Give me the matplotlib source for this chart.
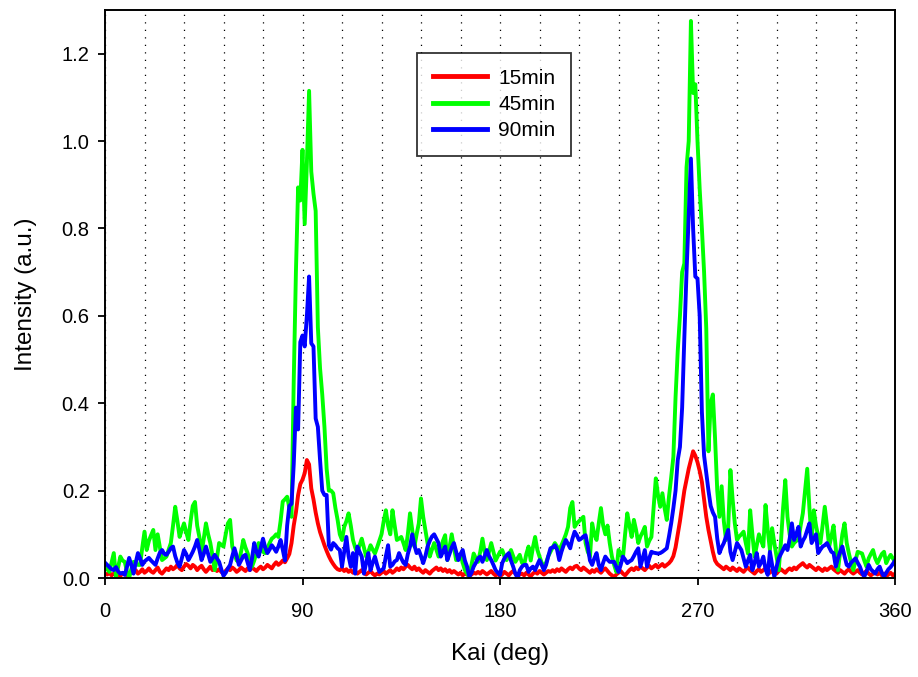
import numpy as np
import matplotlib
matplotlib.use("Agg")
import matplotlib.pyplot as plt
from matplotlib.ticker import MultipleLocator, FormatStrFormatter

plt.rcParams['font.family'] = ['Liberation Sans', 'DejaVu Sans']

kai = np.arange(0, 361, 1)

i_15min = [
    0.010, 0.008, 0.012, 0.006, 0.010, 0.014, 0.008, 0.005, 0.010, 0.012,
    0.006, 0.010, 0.015, 0.012, 0.018, 0.010, 0.014, 0.020, 0.012, 0.016,
    0.022, 0.015, 0.012, 0.018, 0.024, 0.014, 0.010, 0.016, 0.022, 0.018,
    0.026, 0.020, 0.024, 0.030, 0.022, 0.018, 0.026, 0.032, 0.028, 0.022,
    0.030, 0.026, 0.018, 0.024, 0.028, 0.020, 0.014, 0.020, 0.026, 0.018,
    0.022, 0.016, 0.020, 0.014, 0.010, 0.016, 0.022, 0.018, 0.024, 0.020,
    0.014, 0.018, 0.024, 0.020, 0.016, 0.022, 0.018, 0.024, 0.020, 0.016,
    0.022, 0.026, 0.020, 0.024, 0.030, 0.026, 0.022, 0.030, 0.036, 0.030,
    0.034, 0.040, 0.036, 0.045, 0.055, 0.080, 0.120, 0.150, 0.190, 0.215,
    0.225, 0.240, 0.270, 0.260, 0.205, 0.180, 0.150, 0.125, 0.105, 0.090,
    0.075, 0.062, 0.050, 0.040, 0.032, 0.025, 0.020, 0.018, 0.022, 0.016,
    0.020, 0.014, 0.018, 0.012, 0.016, 0.010, 0.014, 0.018, 0.012, 0.008,
    0.012, 0.016, 0.010, 0.006, 0.010, 0.008, 0.012, 0.016, 0.010, 0.014,
    0.018, 0.012, 0.016, 0.022, 0.018, 0.024, 0.020, 0.026, 0.030, 0.024,
    0.020, 0.026, 0.018, 0.022, 0.016, 0.012, 0.018, 0.014, 0.010, 0.016,
    0.020, 0.024, 0.018, 0.022, 0.016, 0.020, 0.014, 0.018, 0.012, 0.016,
    0.012, 0.008, 0.012, 0.006, 0.010, 0.008, 0.004, 0.008, 0.012, 0.010,
    0.014, 0.010, 0.016, 0.012, 0.008, 0.012, 0.016, 0.010, 0.006, 0.010,
    0.004, 0.008, 0.014, 0.010, 0.006, 0.012, 0.016, 0.010, 0.004, 0.008,
    0.010, 0.006, 0.012, 0.008, 0.004, 0.010, 0.014, 0.010, 0.016, 0.012,
    0.008, 0.012, 0.016, 0.014, 0.018, 0.014, 0.020, 0.016, 0.022, 0.018,
    0.014, 0.020, 0.024, 0.020, 0.026, 0.028, 0.022, 0.018, 0.024, 0.020,
    0.016, 0.012, 0.018, 0.014, 0.020, 0.016, 0.012, 0.018, 0.022, 0.016,
    0.010, 0.006, 0.002, 0.008, 0.012, 0.016, 0.010, 0.006, 0.012, 0.018,
    0.022, 0.018, 0.024, 0.020, 0.026, 0.022, 0.018, 0.024, 0.028, 0.022,
    0.026, 0.030, 0.024, 0.028, 0.032, 0.026, 0.030, 0.034, 0.040, 0.050,
    0.070, 0.100, 0.130, 0.165, 0.200, 0.225, 0.250, 0.270, 0.290, 0.280,
    0.265, 0.245, 0.220, 0.180, 0.140, 0.110, 0.085, 0.060, 0.040, 0.032,
    0.028, 0.024, 0.020, 0.026, 0.022, 0.018, 0.024, 0.020, 0.016, 0.022,
    0.018, 0.014, 0.020, 0.024, 0.018, 0.014, 0.010, 0.016, 0.020, 0.014,
    0.018, 0.022, 0.016, 0.012, 0.018, 0.014, 0.010, 0.016, 0.020, 0.016,
    0.012, 0.018, 0.022, 0.018, 0.024, 0.020, 0.026, 0.030, 0.034, 0.028,
    0.024, 0.030, 0.026, 0.022, 0.018, 0.024, 0.020, 0.016, 0.022, 0.018,
    0.022, 0.026, 0.020, 0.016, 0.012, 0.018, 0.014, 0.010, 0.016, 0.020,
    0.014, 0.010, 0.014, 0.018, 0.012, 0.008, 0.012, 0.016, 0.010, 0.006,
    0.010, 0.014, 0.008, 0.012, 0.006, 0.010, 0.004, 0.008, 0.012, 0.006,
    0.010,
]

i_45min = [
    0.026, 0.020, 0.014, 0.035, 0.057, 0.003, 0.025, 0.049, 0.040, 0.037,
    0.015, 0.000, 0.020, 0.037, 0.034, 0.030, 0.030, 0.070, 0.106, 0.064,
    0.085, 0.098, 0.110, 0.064, 0.100, 0.070, 0.041, 0.045, 0.049, 0.065,
    0.080, 0.120, 0.163, 0.130, 0.094, 0.110, 0.125, 0.105, 0.087, 0.130,
    0.165, 0.174, 0.120, 0.094, 0.057, 0.090, 0.125, 0.100, 0.080, 0.050,
    0.018, 0.045, 0.080, 0.076, 0.072, 0.100, 0.125, 0.133, 0.072, 0.055,
    0.040, 0.037, 0.060, 0.087, 0.070, 0.057, 0.040, 0.026, 0.040, 0.057,
    0.080, 0.070, 0.060, 0.057, 0.068, 0.080, 0.090, 0.094, 0.100, 0.094,
    0.130, 0.175, 0.180, 0.186, 0.160, 0.140, 0.450, 0.700, 0.894, 0.864,
    0.980, 0.810, 0.950, 1.115, 0.930, 0.880, 0.840, 0.574, 0.480, 0.420,
    0.346, 0.250, 0.200, 0.200, 0.194, 0.160, 0.133, 0.100, 0.087, 0.117,
    0.130, 0.148, 0.120, 0.087, 0.070, 0.057, 0.075, 0.090, 0.070, 0.049,
    0.060, 0.075, 0.065, 0.056, 0.070, 0.085, 0.100, 0.130, 0.155, 0.120,
    0.100, 0.155, 0.120, 0.087, 0.090, 0.094, 0.080, 0.064, 0.100, 0.148,
    0.110, 0.072, 0.100, 0.125, 0.182, 0.140, 0.110, 0.080, 0.049, 0.065,
    0.080, 0.065, 0.049, 0.065, 0.085, 0.098, 0.041, 0.070, 0.100, 0.070,
    0.041, 0.045, 0.053, 0.035, 0.018, 0.010, 0.003, 0.030, 0.056, 0.045,
    0.037, 0.060, 0.090, 0.060, 0.041, 0.060, 0.080, 0.060, 0.040, 0.050,
    0.060, 0.064, 0.050, 0.041, 0.052, 0.064, 0.050, 0.037, 0.045, 0.053,
    0.035, 0.030, 0.055, 0.072, 0.040, 0.070, 0.094, 0.065, 0.049, 0.035,
    0.026, 0.035, 0.050, 0.060, 0.070, 0.080, 0.072, 0.064, 0.075, 0.087,
    0.100, 0.117, 0.160, 0.174, 0.117, 0.125, 0.130, 0.135, 0.140, 0.080,
    0.060, 0.049, 0.125, 0.100, 0.087, 0.125, 0.160, 0.120, 0.100, 0.120,
    0.080, 0.049, 0.030, 0.014, 0.064, 0.055, 0.045, 0.100, 0.148, 0.120,
    0.094, 0.133, 0.110, 0.080, 0.095, 0.105, 0.117, 0.072, 0.085, 0.094,
    0.160, 0.228, 0.190, 0.163, 0.194, 0.160, 0.133, 0.186, 0.230, 0.277,
    0.414, 0.520, 0.600, 0.700, 0.720, 0.940, 1.000, 1.275, 1.110, 1.130,
    1.000, 0.890, 0.800, 0.700, 0.570, 0.290, 0.400, 0.420, 0.320, 0.200,
    0.140, 0.210, 0.130, 0.087, 0.117, 0.247, 0.180, 0.125, 0.087, 0.095,
    0.100, 0.106, 0.080, 0.056, 0.155, 0.100, 0.049, 0.075, 0.100, 0.085,
    0.072, 0.167, 0.110, 0.064, 0.114, 0.080, 0.050, 0.018, 0.080, 0.160,
    0.224, 0.140, 0.100, 0.072, 0.080, 0.085, 0.087, 0.120, 0.148, 0.200,
    0.250, 0.160, 0.087, 0.155, 0.120, 0.095, 0.080, 0.120, 0.163, 0.120,
    0.072, 0.095, 0.120, 0.070, 0.018, 0.060, 0.100, 0.125, 0.080, 0.056,
    0.035, 0.018, 0.040, 0.060, 0.058, 0.056, 0.040, 0.026, 0.045, 0.055,
    0.064, 0.045, 0.034, 0.045, 0.055, 0.060, 0.034, 0.045, 0.053, 0.045,
    0.037,
]

i_90min = [
    0.035, 0.030, 0.025, 0.020, 0.018, 0.025, 0.015, 0.010, 0.012, 0.007,
    0.025, 0.046, 0.030, 0.010, 0.035, 0.057, 0.045, 0.030, 0.038, 0.042,
    0.046, 0.040, 0.035, 0.030, 0.045, 0.058, 0.064, 0.055, 0.053, 0.060,
    0.068, 0.072, 0.050, 0.035, 0.026, 0.045, 0.064, 0.055, 0.041, 0.050,
    0.060, 0.072, 0.087, 0.065, 0.041, 0.055, 0.072, 0.055, 0.037, 0.045,
    0.053, 0.045, 0.037, 0.020, 0.005, 0.012, 0.022, 0.030, 0.050, 0.068,
    0.050, 0.030, 0.040, 0.050, 0.053, 0.035, 0.018, 0.045, 0.080, 0.060,
    0.049, 0.070, 0.090, 0.070, 0.057, 0.065, 0.075, 0.068, 0.060, 0.072,
    0.087, 0.065, 0.040, 0.120, 0.165, 0.170, 0.260, 0.390, 0.340, 0.540,
    0.555, 0.530, 0.600, 0.690, 0.537, 0.530, 0.365, 0.346, 0.270, 0.200,
    0.190, 0.190, 0.075, 0.065, 0.080, 0.075, 0.068, 0.064, 0.026, 0.060,
    0.094, 0.050, 0.026, 0.057, 0.010, 0.072, 0.060, 0.049, 0.010, 0.035,
    0.057, 0.018, 0.035, 0.049, 0.030, 0.014, 0.018, 0.022, 0.050, 0.075,
    0.026, 0.030, 0.038, 0.041, 0.057, 0.045, 0.035, 0.030, 0.055, 0.072,
    0.100, 0.075, 0.057, 0.064, 0.050, 0.034, 0.050, 0.072, 0.085, 0.095,
    0.100, 0.090, 0.080, 0.049, 0.060, 0.072, 0.041, 0.055, 0.070, 0.080,
    0.060, 0.041, 0.055, 0.064, 0.040, 0.026, 0.003, 0.012, 0.026, 0.035,
    0.045, 0.049, 0.037, 0.050, 0.064, 0.050, 0.041, 0.030, 0.018, 0.012,
    0.007, 0.034, 0.045, 0.052, 0.057, 0.040, 0.026, 0.010, 0.000, 0.018,
    0.026, 0.030, 0.030, 0.014, 0.022, 0.026, 0.018, 0.030, 0.041, 0.030,
    0.018, 0.030, 0.050, 0.068, 0.070, 0.075, 0.065, 0.041, 0.060, 0.075,
    0.087, 0.078, 0.068, 0.090, 0.106, 0.098, 0.087, 0.090, 0.095, 0.098,
    0.072, 0.040, 0.030, 0.045, 0.057, 0.030, 0.018, 0.035, 0.049, 0.042,
    0.037, 0.037, 0.037, 0.025, 0.014, 0.030, 0.049, 0.042, 0.034, 0.038,
    0.041, 0.050, 0.060, 0.068, 0.026, 0.045, 0.064, 0.026, 0.045, 0.060,
    0.058, 0.057, 0.056, 0.057, 0.060, 0.064, 0.068, 0.095, 0.125, 0.160,
    0.200, 0.270, 0.300, 0.390, 0.550, 0.700, 0.830, 0.960, 0.800, 0.690,
    0.685, 0.600, 0.380, 0.280, 0.240, 0.200, 0.165, 0.150, 0.140, 0.090,
    0.057, 0.070, 0.080, 0.095, 0.110, 0.060, 0.041, 0.060, 0.080, 0.072,
    0.064, 0.045, 0.026, 0.040, 0.053, 0.018, 0.035, 0.057, 0.026, 0.035,
    0.049, 0.020, 0.007, 0.060, 0.030, 0.003, 0.025, 0.045, 0.055, 0.065,
    0.075, 0.064, 0.090, 0.125, 0.087, 0.100, 0.117, 0.072, 0.085, 0.094,
    0.110, 0.125, 0.080, 0.090, 0.100, 0.057, 0.065, 0.072, 0.075, 0.080,
    0.070, 0.060, 0.057, 0.026, 0.045, 0.060, 0.072, 0.050, 0.030, 0.026,
    0.035, 0.040, 0.045, 0.035, 0.026, 0.012, 0.003, 0.015, 0.030, 0.020,
    0.015, 0.010, 0.020, 0.026, 0.012, 0.003, 0.012, 0.020, 0.025, 0.032,
    0.040,
]

series_labels = ["15min", "45min", "90min"]
series_colors = ["#ff0000", "#00ff00", "#0000ff"]
x_ticks = [0, 90, 180, 270, 360]

fig = plt.figure(figsize=(9.18, 6.77), dpi=100)
ax = fig.add_axes([105/918, 1 - 578/677, 790/918, 568/677])

for vals, lab, col in zip([i_15min, i_45min, i_90min], series_labels, series_colors):
    ax.plot(kai, vals, color=col, lw=2.8, label=lab, solid_joinstyle='round')

ax.set_xlim(0, 360)
ax.set_ylim(0, 1.3)
ax.set_xticks(x_ticks)
ax.xaxis.set_minor_locator(MultipleLocator(18))
ax.set_yticks(np.arange(0, 1.21, 0.2))
ax.yaxis.set_major_formatter(FormatStrFormatter('%.1f'))
ax.grid(True, axis='x', which='both', color='black', lw=0.9, linestyle=(0, (1, 5)))
ax.tick_params(axis='both', which='major', direction='out', length=5, width=1.3,
               labelsize=14.5, top=False, right=False, pad=6)
ax.tick_params(axis='x', which='minor', length=0)
ax.tick_params(axis='x', which='major', pad=12)
for s in ax.spines.values():
    s.set_linewidth(1.4)

ax.set_xlabel("Kai (deg)", fontsize=17.5, labelpad=16)
ax.set_ylabel("Intensity (a.u.)", fontsize=17.5, labelpad=18)

leg = ax.legend(loc='upper left', bbox_to_anchor=((417-105)/790, (578-53)/568),
                borderaxespad=0, fontsize=15, fancybox=False, frameon=True,
                handlelength=2.6, handletextpad=0.55, labelspacing=0.35,
                borderpad=0.75)
leg.get_frame().set_edgecolor('black')
leg.get_frame().set_linewidth(1.3)
for ln in leg.get_lines():
    ln.set_linewidth(3.5)

fig.savefig("out.png", dpi=100)
